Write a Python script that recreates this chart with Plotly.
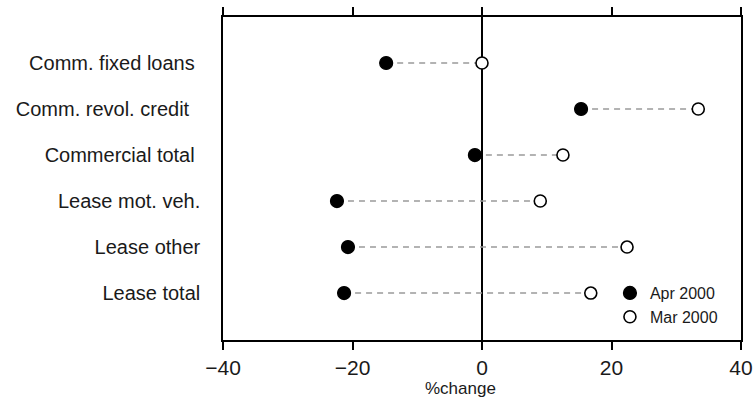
import plotly.graph_objects as go

categories = ["Comm. fixed loans", "Comm. revol. credit", "Commercial total",
              "Lease mot. veh.", "Lease other", "Lease total"]
apr_2000 = [-14.8, 15.3, -1.1, -22.4, -20.7, -21.3]
mar_2000 = [0.0, 33.4, 12.5, 9.0, 22.4, 16.8]
x_ticks = [-40, -20, 0, 20, 40]
x_tick_text = ["\u221240", "\u221220", "0", "20", "40"]

# trailing padding (non-breaking spaces) seen in the original label layout
label_pad = [1, 2, 1, 0, 0, 0]

ypos = list(range(len(categories)))
tick_labels = [c + "\u00a0" * p for c, p in zip(categories, label_pad)]
FONT = "Liberation Sans"

fig = go.Figure()

# dashed connectors
lx, ly = [], []
for y, a, m in zip(ypos, apr_2000, mar_2000):
    lx += [a, m, None]
    ly += [y, y, None]
fig.add_trace(go.Scatter(x=lx, y=ly, mode="lines", showlegend=False,
                         line=dict(color="#9a9a9a", width=1.5, dash="6px,5px"),
                         hoverinfo="skip"))

fig.add_trace(go.Scatter(x=apr_2000, y=ypos, mode="markers", name="Apr 2000",
                         marker=dict(size=13, color="black",
                                     line=dict(color="black", width=1.2))))
fig.add_trace(go.Scatter(x=mar_2000, y=ypos, mode="markers", name="Mar 2000",
                         marker=dict(size=12, color="white",
                                     line=dict(color="black", width=1.6))))

fig.update_layout(
    width=755, height=403,
    margin=dict(l=223, r=14, t=17, b=63),
    paper_bgcolor="white", plot_bgcolor="white",
    font=dict(family=FONT, size=20, color="#1a1a1a"),
    legend=dict(x=0.747, y=0.198, xanchor="left", yanchor="top",
                bgcolor="rgba(0,0,0,0)", font=dict(size=16),
                itemwidth=30, tracegroupgap=0),
    xaxis=dict(range=[-40, 40], tickvals=x_ticks, ticktext=x_tick_text,
               ticks="outside", ticklen=8, tickwidth=1.5, tickcolor="black",
               showline=True, linecolor="black", linewidth=1.5, mirror="ticks",
               showgrid=False, zeroline=True, zerolinecolor="black", zerolinewidth=1.5,
               tickfont=dict(size=21), automargin=False),
    yaxis=dict(range=[6.02, -1.0], tickvals=ypos, ticktext=tick_labels,
               showline=True, linecolor="black", linewidth=1.5, mirror=True,
               showgrid=False, zeroline=False, ticks="", ticklabelstandoff=17,
               automargin=False),
    annotations=[dict(text="%change", xref="paper", yref="paper", x=0.459, y=-0.149,
                      xanchor="center", yanchor="middle", showarrow=False,
                      font=dict(size=17))],
)

fig.write_html("out.html", config={"displayModeBar": False},
               post_script="document.body.style.margin='0px';document.body.style.overflow='hidden';")
